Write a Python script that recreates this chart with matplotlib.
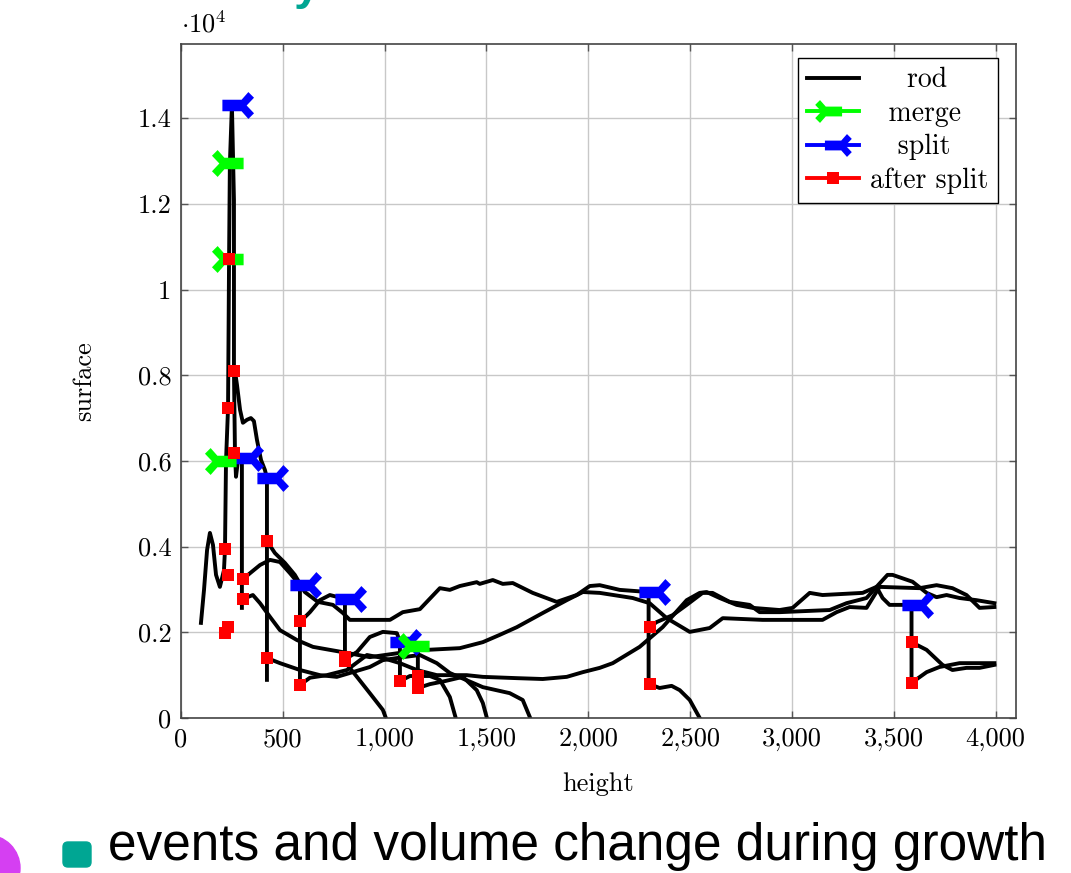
import matplotlib

matplotlib.use("Agg")
import matplotlib.pyplot as plt
from matplotlib.lines import Line2D
from matplotlib.patches import Circle, FancyBboxPatch
from matplotlib.path import Path
from matplotlib.ticker import FuncFormatter, MultipleLocator

plt.rcParams["font.family"] = ["cmr10", "DejaVu Serif"]
plt.rcParams["mathtext.fontset"] = "cm"
plt.rcParams["axes.formatter.use_mathtext"] = True

# rod trajectories (height, surface)
rod_a_x = [98, 113, 128, 142, 157, 172, 191, 211, 216, 221, 231, 236, 240, 250]
rod_a_y = [2220, 2990, 3920, 4320, 4040, 3340, 3060, 3450, 3940, 6000, 7240, 10710, 12950, 14300]
rod_b_x = [250, 260, 260, 265, 270, 280, 299, 299]
rod_b_y = [14300, 12090, 8100, 6190, 5630, 6020, 6070, 2570]
rod_c_x = [265, 275, 290, 304, 324, 343, 358, 373, 393, 412, 422, 422]
rod_c_y = [8100, 7770, 7190, 6890, 6960, 7000, 6930, 6490, 6020, 5790, 5600, 890]
rod_d_x = [304, 339, 388, 437, 486, 535, 584, 584]
rod_d_y = [3240, 3380, 3570, 3690, 3640, 3380, 3100, 770]
rod_e_x = [422, 461, 510, 559, 608, 672, 746, 795, 829, 1026, 1089, 1173, 1271, 1320, 1369, 1452,
           1467, 1531, 1580, 1629, 1727, 1845, 1943, 2007, 2056, 2154, 2296, 2296]
rod_e_y = [4130, 3850, 3620, 3340, 2940, 2710, 2640, 2450, 2290, 2290, 2470, 2540, 3030, 2990, 3080, 3170,
           3130, 3220, 3130, 3150, 2920, 2710, 2870, 3080, 3100, 2990, 2940, 790]
rod_f_x = [584, 633, 682, 731, 805, 805]
rod_f_y = [2240, 2470, 2750, 2870, 2780, 1310]
rod_g_x = [2301, 2336, 2414, 2483, 2561, 2610, 2694, 2792, 2841, 2939, 3185, 3268, 3366, 3415, 3445,
           3479, 3587, 3587]
rod_g_y = [2120, 2240, 2400, 2640, 2920, 2920, 2710, 2640, 2470, 2470, 2520, 2680, 2800, 3060, 2800,
           2640, 2640, 820]
rod_h_x = [2301, 2350, 2409, 2449, 2498, 2547]
rod_h_y = [790, 700, 750, 650, 420, 0]
rod_i_x = [3587, 3661, 3739, 3788, 3857, 3921, 3994]
rod_i_y = [1770, 1590, 1240, 1120, 1170, 1170, 1240]
rod_j_x = [3587, 3661, 3724, 3823, 3994]
rod_j_y = [820, 1070, 1190, 1280, 1280]
rod_k_x = [1163, 1207, 1369, 1482, 1565, 1649, 1776, 1894, 1973, 2056, 2218, 2301, 2385, 2498, 2596,
           2660, 2856, 2939, 3150, 3219, 3283, 3366, 3430, 3626, 3710, 3788, 3857, 3921, 3994]
rod_k_y = [1680, 1590, 1630, 1770, 1940, 2120, 2450, 2750, 2940, 2920, 2800, 2680, 2330, 2010, 2100,
           2330, 2290, 2290, 2290, 2470, 2590, 2570, 3060, 3030, 3100, 3030, 2870, 2570, 2590]
rod_m_x = [304, 353, 388, 437, 486, 569, 648, 731, 815, 927, 1075, 1163, 1163]
rod_m_y = [2780, 2870, 2680, 2360, 2050, 1820, 1660, 1590, 1520, 1420, 1520, 1680, 700]
rod_n_x = [422, 486, 584, 682, 765, 829, 927, 991, 1089, 1173, 1256, 1320, 1482, 1614, 1678, 1713]
rod_n_y = [1400, 1280, 1120, 1000, 960, 1050, 1190, 1350, 1420, 1470, 1280, 1050, 720, 580, 420, 20]
rod_o_x = [584, 633, 716, 815, 913, 991, 1075, 1158, 1256, 1403, 1482, 1649, 1776, 1894, 1973, 2056,
           2120, 2252, 2365, 2483, 2547, 2581, 2645, 2728, 2807, 2939, 3003, 3087, 3150, 3347, 3415,
           3469, 3494, 3592, 3661, 3710, 3759, 3823, 3906, 3994]
rod_o_y = [770, 940, 1000, 1120, 1470, 1400, 1280, 1120, 1000, 1000, 960, 930, 910, 960, 1070, 1170,
           1280, 1660, 2120, 2750, 2920, 2940, 2800, 2640, 2570, 2520, 2570, 2920, 2870, 2920, 3060,
           3340, 3340, 3180, 2920, 2820, 2870, 2800, 2750, 2680]
rod_p_x = [815, 864, 927, 991, 1060, 1075, 1075]
rod_p_y = [1400, 1540, 1890, 2010, 1980, 1780, 860]
rod_q_x = [1163, 1222, 1271, 1320, 1349]
rod_q_y = [980, 980, 890, 490, 0]
rod_r_x = [1163, 1222, 1295, 1384, 1452, 1482, 1502]
rod_r_y = [700, 790, 860, 960, 650, 350, 0]
rod_s_x = [805, 864, 927, 991, 1006]
rod_s_y = [1310, 960, 580, 190, 0]
rod_t_x = [1075, 1124, 1163]
rod_t_y = [860, 980, 980]

# events
merge_x = [255, 255, 220, 1170]
merge_y = [12950, 10710, 6000, 1690]
split_x = [250, 300, 420, 585, 805, 1075, 2300, 3590]
split_y = [14300, 6070, 5600, 3100, 2780, 1780, 2940, 2640]
after_x = [235, 260, 230, 260, 216, 230, 304, 304, 230, 216, 422, 422, 584, 584, 805, 805, 1075,
           1163, 1163, 2301, 2301, 3587, 3587]
after_y = [10710, 8100, 7235, 6185, 3945, 3340, 3245, 2780, 2120, 1980, 4130, 1400, 2264, 770, 1420,
           1330, 860, 980, 700, 2124, 794, 1774, 817]

x_ticks = [0, 500, 1000, 1500, 2000, 2500, 3000, 3500, 4000]
legend_labels = ["rod", "merge", "split", "after split"]

rods = [
    (rod_a_x, rod_a_y), (rod_b_x, rod_b_y), (rod_c_x, rod_c_y), (rod_d_x, rod_d_y),
    (rod_e_x, rod_e_y), (rod_f_x, rod_f_y), (rod_g_x, rod_g_y), (rod_h_x, rod_h_y),
    (rod_i_x, rod_i_y), (rod_j_x, rod_j_y), (rod_k_x, rod_k_y), (rod_m_x, rod_m_y),
    (rod_n_x, rod_n_y), (rod_o_x, rod_o_y), (rod_p_x, rod_p_y), (rod_q_x, rod_q_y),
    (rod_r_x, rod_r_y), (rod_s_x, rod_s_y), (rod_t_x, rod_t_y),
]

# half-arrow style event markers: bar with a fork on one side
split_verts = [(-10, -5.7), (9, -5.7), (15.7, -13.3), (21.3, -7.7), (14, 0), (21.3, 7.7),
               (15.7, 13.3), (9, 5.7), (-10, 5.7), (-10, -5.7)]
split_marker = Path(split_verts, closed=True)
merge_marker = Path([(-vx, vy) for vx, vy in split_verts], closed=True)

TEAL = "#00a693"
GREEN = "#00ff00"
BLUE = "#0000ff"
RED = "#ff0000"
EVENT_MS = 31
LW = 2.8
FS = 19

fig = plt.figure(figsize=(10.71, 8.73), dpi=100)
ax = fig.add_axes([181 / 1071, 1 - 718 / 873, 835 / 1071, 674 / 873])

for rx, ry in rods:
    ax.plot(rx, ry, color="black", lw=LW, zorder=2, solid_joinstyle="round")

ax.plot(split_x, split_y, ls="none", marker=split_marker, ms=EVENT_MS, color=BLUE, mew=0, zorder=3)
ax.plot(merge_x, merge_y, ls="none", marker=merge_marker, ms=EVENT_MS, color=GREEN, mew=0, zorder=4)
ax.plot(after_x, after_y, ls="none", marker="s", ms=8.8, color=RED, mew=0, zorder=5)

ax.set_xlim(0, 4100)
ax.set_ylim(0, 15730)
ax.set_xticks(x_ticks)
ax.yaxis.set_major_locator(MultipleLocator(2000))
ax.xaxis.set_major_formatter(FuncFormatter(lambda v, _: f"{int(v):,}"))
ax.yaxis.set_major_formatter(FuncFormatter(lambda v, _: f"{v / 1e4:g}"))
ax.grid(True, color="#c8c8c8", lw=1.0, zorder=0)
ax.tick_params(direction="in", length=5, width=1, color="#555555", top=True, right=True,
               labelsize=FS, pad=7)
for spine in ax.spines.values():
    spine.set_color("#444444")
    spine.set_linewidth(1.2)
ax.set_xlabel("height", fontsize=FS, labelpad=15)
ax.set_ylabel("surface", fontsize=FS, labelpad=30)
ax.text(0.0, 1.01, r"$\cdot 10^4$", transform=ax.transAxes, fontsize=FS, ha="left", va="bottom")

handles = [
    Line2D([], [], color="black", lw=LW),
    Line2D([], [], color=GREEN, lw=LW, marker=merge_marker, ms=EVENT_MS * 0.85, mew=0),
    Line2D([], [], color=BLUE, lw=LW, marker=split_marker, ms=EVENT_MS * 0.85, mew=0),
    Line2D([], [], color=RED, lw=LW, marker="s", ms=8.8, mew=0),
]
padded = ["    " + legend_labels[0], "  " + legend_labels[1], "   " + legend_labels[2],
          legend_labels[3]]
leg = ax.legend(handles, padded, loc="upper right", bbox_to_anchor=(0.978, 0.979), borderaxespad=0,
                fontsize=20, fancybox=False, framealpha=1, edgecolor="black", handlelength=1.9,
                labelspacing=0.26, handletextpad=0.4, borderpad=0.32)
leg.get_frame().set_linewidth(1.0)

# slide decorations around the chart
fig.text(0.274, 1.0 + 1 / 873, "y", color=TEAL, fontsize=34, fontweight="bold",
         family=["Liberation Sans", "DejaVu Sans"], va="baseline")
fig.add_artist(Circle((-0.13, 0.05), 0.33, transform=fig.dpi_scale_trans, color="#d53ff2"))
fig.add_artist(FancyBboxPatch((0.63, 0.06), 0.28, 0.25, boxstyle="round,pad=0,rounding_size=0.05",
                              transform=fig.dpi_scale_trans, color=TEAL))
fig.text(108 / 1071, 13 / 873, "events and volume change during growth", fontsize=37,
         family=["Liberation Sans", "DejaVu Sans"], va="baseline", ha="left")

fig.savefig("out.png", dpi=100)
